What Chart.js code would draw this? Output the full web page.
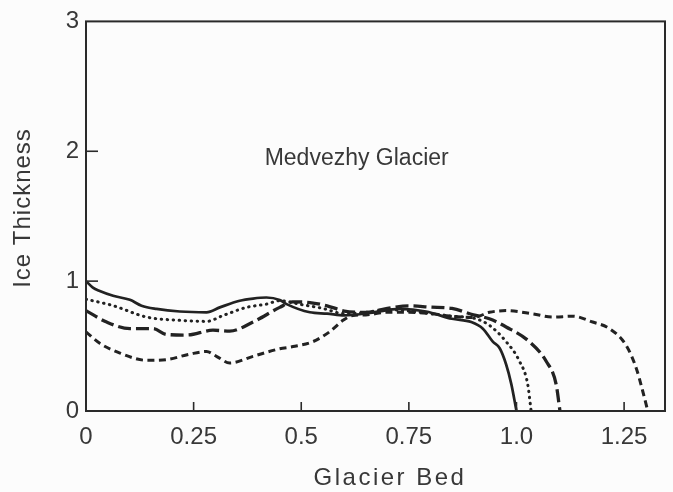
<!DOCTYPE html>
<html>
<head>
<meta charset="utf-8">
<script src="https://cdn.jsdelivr.net/npm/chart.js@4"></script>
<style>
  html, body { margin: 0; padding: 0; background: #fcfcfc; }
  #wrap { width: 673px; height: 492px; }
</style>
</head>
<body>
<div id="wrap"><canvas id="c" width="673" height="492"></canvas></div>
<script>
// ---- data ----
const xTickValues = [0, 0.25, 0.5, 0.75, 1.0, 1.25];
const xTickLabels = ["0", "0.25", "0.5", "0.75", "1.0", "1.25"];
const yTickValues = [0, 1, 2, 3];
const yTickLabels = ["0", "1", "2", "3"];
const xTitle = "Glacier Bed";
const yTitle = "Ice Thickness";
const panelLabel = "Medvezhy Glacier";
const panelLabelPos = [0.415, 1.94];

const solidX = [0, 0.016, 0.032, 0.063, 0.102, 0.129, 0.164, 0.218, 0.28, 0.311, 0.357, 0.388, 0.419, 0.45, 0.466, 0.52, 0.56, 0.6, 0.66, 0.73, 0.79, 0.85, 0.895, 0.922, 0.945, 0.961, 0.976, 0.988, 1.0];
const solidY = [1.0, 0.95, 0.924, 0.887, 0.856, 0.811, 0.786, 0.766, 0.76, 0.798, 0.849, 0.866, 0.874, 0.855, 0.823, 0.76, 0.75, 0.736, 0.755, 0.786, 0.766, 0.71, 0.685, 0.634, 0.534, 0.483, 0.358, 0.207, 0];

const dottedX = [0, 0.063, 0.141, 0.218, 0.28, 0.319, 0.373, 0.419, 0.45, 0.5, 0.55, 0.6, 0.65, 0.7, 0.75, 0.8, 0.85, 0.906, 0.937, 0.976, 1.007, 1.026, 1.034];
const dottedY = [0.861, 0.811, 0.723, 0.698, 0.69, 0.736, 0.798, 0.823, 0.849, 0.82, 0.79, 0.75, 0.76, 0.78, 0.77, 0.75, 0.73, 0.71, 0.66, 0.534, 0.383, 0.207, 0];

const longDashX = [0, 0.048, 0.102, 0.156, 0.187, 0.234, 0.295, 0.334, 0.388, 0.45, 0.48, 0.52, 0.56, 0.6, 0.65, 0.7, 0.75, 0.8, 0.85, 0.9, 0.937, 0.976, 1.03, 1.069, 1.092, 1.101];
const longDashY = [0.773, 0.685, 0.634, 0.634, 0.589, 0.585, 0.622, 0.615, 0.685, 0.798, 0.84, 0.835, 0.81, 0.77, 0.76, 0.79, 0.81, 0.80, 0.79, 0.74, 0.71, 0.647, 0.534, 0.383, 0.207, 0];

const shortDashX = [0, 0.032, 0.079, 0.141, 0.187, 0.241, 0.28, 0.303, 0.334, 0.388, 0.45, 0.481, 0.527, 0.566, 0.597, 0.62, 0.65, 0.7, 0.75, 0.8, 0.85, 0.9, 0.937, 0.976, 1.038, 1.084, 1.131, 1.177, 1.216, 1.254, 1.278, 1.293, 1.305];
const shortDashY = [0.61, 0.521, 0.446, 0.39, 0.396, 0.438, 0.458, 0.421, 0.37, 0.421, 0.479, 0.496, 0.534, 0.61, 0.698, 0.736, 0.74, 0.76, 0.76, 0.75, 0.73, 0.72, 0.76, 0.773, 0.748, 0.723, 0.73, 0.685, 0.634, 0.509, 0.332, 0.156, 0];

// ---- chart ----
const ink = "#222222";
const textInk = "#383838";
const FONT = "'Liberation Sans', Arial, Helvetica, sans-serif";

function pts(xs, ys) { return xs.map((x, i) => ({ x: x, y: ys[i] })); }

function ds(label, xs, ys, dash, width, cap) {
  return {
    label: label,
    data: pts(xs, ys),
    borderColor: ink,
    borderWidth: width,
    borderDash: dash,
    borderCapStyle: cap,
    borderJoinStyle: 'round',
    pointRadius: 0,
    fill: false,
    tension: 0.3,
    cubicInterpolationMode: 'monotone'
  };
}

const decor = {
  id: 'decor',
  afterDraw(chart) {
    const ctx = chart.ctx;
    const a = chart.chartArea;
    const xs = chart.scales.x, ys = chart.scales.y;
    ctx.save();
    // frame
    ctx.strokeStyle = "#2a2a2a";
    ctx.lineWidth = 2;
    ctx.strokeRect(a.left, a.top, a.right - a.left, a.bottom - a.top);
    // inner ticks
    ctx.lineWidth = 1.6;
    xs.ticks.forEach(t => {
      if (t.value === 0) return;
      const px = xs.getPixelForValue(t.value);
      ctx.beginPath(); ctx.moveTo(px, a.bottom); ctx.lineTo(px, a.bottom - 9); ctx.stroke();
    });
    ys.ticks.forEach(t => {
      if (t.value === 0 || t.value === 3) return;
      const py = ys.getPixelForValue(t.value);
      ctx.beginPath(); ctx.moveTo(a.left, py); ctx.lineTo(a.left + 12, py); ctx.stroke();
    });
    // panel label
    ctx.fillStyle = textInk;
    ctx.font = "23px " + FONT;
    ctx.textAlign = 'left';
    ctx.textBaseline = 'middle';
    ctx.fillText(panelLabel, xs.getPixelForValue(panelLabelPos[0]), ys.getPixelForValue(panelLabelPos[1]));
    // axis titles
    ctx.font = "24px " + FONT;
    ctx.textAlign = 'center';
    if ('letterSpacing' in ctx) ctx.letterSpacing = '2.5px';
    ctx.fillText(xTitle, 390, 478);
    if ('letterSpacing' in ctx) ctx.letterSpacing = '1px';
    ctx.translate(23, 208);
    ctx.rotate(-Math.PI / 2);
    ctx.fillText(yTitle, 0, 0);
    ctx.restore();
  }
};

new Chart(document.getElementById('c'), {
  type: 'line',
  data: {
    datasets: [
      ds('solid', solidX, solidY, [], 2.7, 'round'),
      ds('dotted', dottedX, dottedY, [0.5, 5.5], 3, 'round'),
      ds('long dash', longDashX, longDashY, [13, 5], 3.3, 'butt'),
      ds('short dash', shortDashX, shortDashY, [7, 4.5], 3, 'butt')
    ]
  },
  options: {
    responsive: false,
    animation: false,
    devicePixelRatio: 1,
    layout: { padding: { top: 13, right: 8, left: 0, bottom: 0 } },
    plugins: { legend: { display: false }, tooltip: { enabled: false } },
    scales: {
      x: {
        type: 'linear',
        min: 0, max: 1.345,
        afterBuildTicks: s => { s.ticks = xTickValues.map(v => ({ value: v })); },
        afterFit: s => { s.height = 81; },
        grid: { display: false, drawTicks: false },
        border: { display: false },
        ticks: {
          padding: 12,
          color: textInk,
          font: { family: FONT, size: 24 },
          maxRotation: 0,
          autoSkip: false,
          callback: (v) => { const i = xTickValues.indexOf(v); return i >= 0 ? xTickLabels[i] : ''; }
        }
      },
      y: {
        type: 'linear',
        min: 0, max: 3,
        afterBuildTicks: s => { s.ticks = yTickValues.map(v => ({ value: v })); },
        afterFit: s => { s.width = 86; },
        grid: { display: false, drawTicks: false },
        border: { display: false },
        ticks: {
          padding: 7,
          color: textInk,
          font: { family: FONT, size: 24 },
          autoSkip: false,
          callback: (v) => { const i = yTickValues.indexOf(v); return i >= 0 ? yTickLabels[i] : ''; }
        }
      }
    }
  },
  plugins: [decor]
});
</script>
</body>
</html>
